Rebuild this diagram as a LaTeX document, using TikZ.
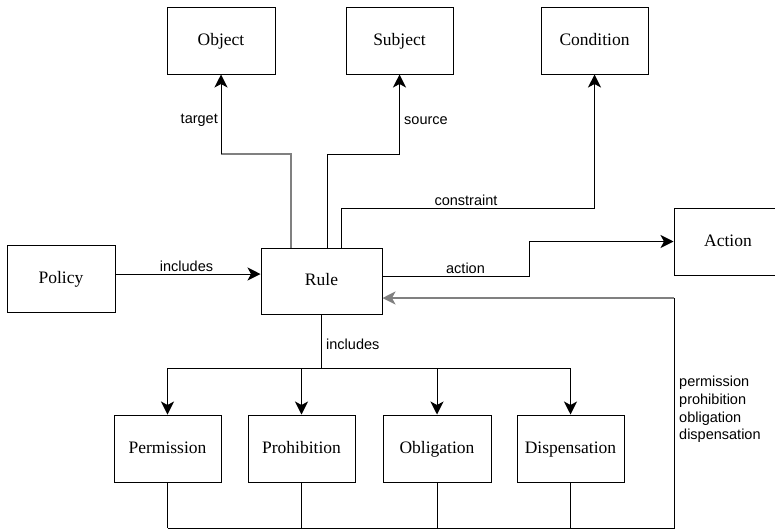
\documentclass[tikz,border=0pt]{standalone}
\usepackage{fontspec}
\setmainfont{Liberation Serif}
\newfontfamily\lblfont{Liberation Sans}
\usetikzlibrary{arrows.meta}
\definecolor{midgray}{RGB}{128,128,128}
\tikzset{
  box/.style={draw=black, line width=1pt, fill=white, minimum width=107pt, minimum height=67pt, inner sep=0pt, text height=12.5pt, text depth=3.5pt, font=\fontsize{17.5}{20}\selectfont},
  conn/.style={draw=black, line width=1pt},
  grayconn/.style={draw=midgray, line width=1.3pt},
  tip/.style={-{Stealth[length=13pt,width=13pt,inset=3.5pt]}},
  lbl/.style={font=\lblfont\fontsize{14.5}{17.7}\selectfont, inner sep=0pt, text=black},
}
\begin{document}
\begin{tikzpicture}[x=1pt, y=-1pt]
\useasboundingbox (0,0) rectangle (775,531);
\clip (0,0) rectangle (775,531);
% nodes
\node[box, minimum width=108pt] (object) at (221,40.5) {Object};
\node[box] (subject) at (399.5,40.5) {Subject};
\node[box] (condition) at (594.5,40.5) {Condition};
\node[box, minimum width=108pt] (policy) at (61,278.5) {Policy};
\node[box, minimum width=121pt, minimum height=66pt] (rule) at (321.5,281) {Rule};
\node[box, minimum width=108pt] (action) at (728,241.5) {Action};
\node[box] (perm) at (167.5,448.5) {Permission};
\node[box] (proh) at (301.5,448.5) {Prohibition};
\node[box, minimum width=108pt] (obli) at (437,448.5) {Obligation};
\node[box] (disp) at (570.5,448.5) {Dispensation};
% helper coordinates
\coordinate (pinY) at (0,274);
\coordinate (actY) at (0,276);
\coordinate (backY) at (0,298);
\coordinate (objX) at (291,0);
\coordinate (subX) at (327,0);
\coordinate (conX) at (341,0);
\coordinate (topY) at (0,154);
\coordinate (conY) at (0,208);
\coordinate (stepX) at (529,0);
\coordinate (splitY) at (0,368);
\coordinate (bottomY) at (0,528);
\coordinate (retX) at (674,0);
% Policy -> Rule
\draw[conn, tip] (policy.east |- pinY) -- (rule.west |- pinY);
\node[lbl] (l1) at (186.5,266) {includes};
% Rule -> Object
\draw[grayconn] (rule.north -| objX) -- (objX |- topY) -- (object.south |- topY);
\draw[conn, tip] (object.south |- topY) -- (object.south);
\node[lbl, anchor=east] (l2) at (218,120) {target};
% Rule -> Subject
\draw[conn, tip] (rule.north -| subX) -- (subX |- topY) -- (subject.south |- topY) -- (subject.south);
\node[lbl, anchor=west] (l3) at (404,121) {source};
% Rule -> Condition
\draw[conn, tip] (rule.north -| conX) -- (conX |- conY) -- (condition.south |- conY) -- (condition.south);
\node[lbl] (l4) at (466,200) {constraint};
% Rule -> Action
\draw[conn, tip] (rule.east |- actY) -- (stepX |- actY) -- (stepX |- action.west) -- (action.west);
\node[lbl] (l5) at (465.5,268) {action};
% Rule -> sub-rules
\draw[conn] (rule.south) -- (rule.south |- splitY);
\draw[conn] (perm.north |- splitY) -- (disp.north |- splitY);
\draw[conn, tip] (perm.north |- splitY) -- (perm.north);
\draw[conn, tip] (proh.north |- splitY) -- (proh.north);
\draw[conn, tip] (obli.north |- splitY) -- (obli.north);
\draw[conn, tip] (disp.north |- splitY) -- (disp.north);
\node[lbl, anchor=west] (l6) at (326,344) {includes};
% sub-rules back to Rule
\draw[conn] (perm.south) -- (perm.south |- bottomY);
\draw[conn] (proh.south) -- (proh.south |- bottomY);
\draw[conn] (obli.south) -- (obli.south |- bottomY);
\draw[conn] (disp.south) -- (disp.south |- bottomY);
\draw[conn] (perm.south |- bottomY) -- (retX |- bottomY) -- (retX |- backY);
\draw[grayconn, line width=2pt, tip] (retX |- backY) -- (rule.east |- backY);
\node[lbl, anchor=west, align=left] (l7) at (679,409.5) {permission\\prohibition\\obligation\\dispensation};
\end{tikzpicture}
\end{document}
